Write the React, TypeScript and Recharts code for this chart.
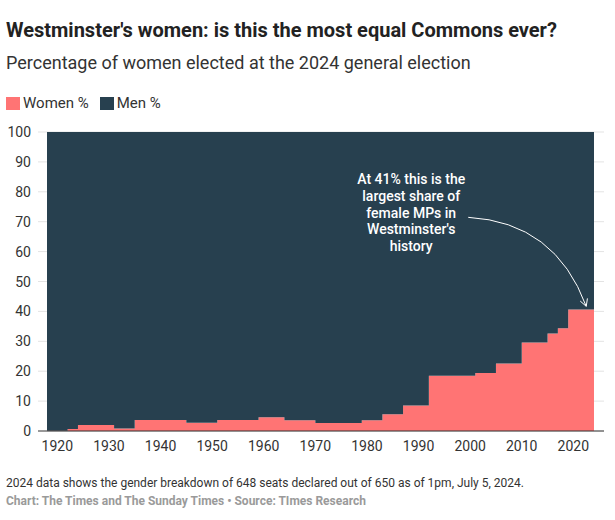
import React from 'react';
import {
  Area,
  AreaChart,
  CartesianGrid,
  ReferenceDot,
  XAxis,
  YAxis,
} from 'recharts';

// election years (each value covers the span ending at that year)
const years = [
  1918, 1922, 1924, 1931, 1935, 1945, 1951, 1959, 1964, 1970, 1979, 1983,
  1987, 1992, 2001, 2005, 2010, 2015, 2017, 2019, 2024,
];
const womenPct = [
  0.1, 0.1, 0.7, 2.0, 0.8, 3.7, 2.8, 3.7, 4.6, 3.6, 2.7, 3.6, 5.6, 8.5,
  18.5, 19.4, 22.6, 29.6, 32.6, 34.4, 40.6,
];
const menPct = [
  99.9, 99.9, 99.3, 98.0, 99.2, 96.3, 97.2, 96.3, 95.4, 96.4, 97.3, 96.4,
  94.4, 91.5, 81.5, 80.6, 77.4, 70.4, 67.4, 65.6, 59.4,
];
const xTicks = [1920, 1930, 1940, 1950, 1960, 1970, 1980, 1990, 2000, 2010, 2020];
const yTicks = [0, 10, 20, 30, 40, 50, 60, 70, 80, 90, 100];
const noteLines = [
  'At 41% this is the',
  'largest share of',
  'female MPs in',
  "Westminster's",
  'history',
];

const data = years.map((year, i) => ({
  year,
  women: womenPct[i],
  men: menPct[i],
}));

const PINK = '#ff7474';
const NAVY = '#27404f';
const FONT = 'Roboto, "Noto Sans", sans-serif';

const YTick = (props: any) => {
  const { x, y, payload } = props;
  const isZero = payload.value === 0;
  return (
    <g>
      <line
        x1={x + 7}
        x2={x + 16}
        y1={y}
        y2={y}
        stroke={isZero ? '#333' : '#e3e3e3'}
        strokeWidth={1}
      />
      <text
        x={x}
        y={y}
        dy={5}
        textAnchor='end'
        fontSize={14}
        fontFamily={FONT}
        fill='#333'
      >
        {payload.value}
      </text>
    </g>
  );
};

const Annotation = (props: any) => {
  const { cx, cy } = props;
  const sx = cx - 118;
  const sy = cy - 89;
  const qx = cx - 31;
  const qy = cy - 84;
  // arrowhead along end tangent
  const ang = Math.atan2(cy - qy, cx - qx);
  const len = 8;
  const a1 = ang + Math.PI - 0.5;
  const a2 = ang + Math.PI + 0.5;
  return (
    <g>
      <path
        d={`M${sx},${sy} Q${qx},${qy} ${cx},${cy}`}
        fill='none'
        stroke='#fff'
        strokeWidth={1}
      />
      <path
        d={`M${cx + len * Math.cos(a1)},${cy + len * Math.sin(a1)} L${cx},${cy} L${cx + len * Math.cos(a2)},${cy + len * Math.sin(a2)}`}
        fill='none'
        stroke='#fff'
        strokeWidth={1}
      />
      <text
        x={cx - 175}
        y={cy - 122}
        textAnchor='middle'
        fontSize={14}
        fontWeight={500}
        fontFamily={FONT}
        fill='#fff'
      >
        {noteLines.map((line, i) => (
          <tspan key={line} x={cx - 175} dy={i === 0 ? 0 : 16.7}>
            {line}
          </tspan>
        ))}
      </text>
    </g>
  );
};

const App = () => {
  return (
    <div
      style={{
        position: 'absolute',
        left: 0,
        top: 0,
        width: 615,
        height: 520,
        background: '#fff',
        fontFamily: FONT,
        color: '#333',
      }}
    >
      <div
        style={{
          position: 'absolute',
          left: 6,
          top: 20,
          fontSize: 20,
          lineHeight: '20px',
          fontWeight: 700,
          color: '#222',
          whiteSpace: 'nowrap',
        }}
      >
        Westminster's women: is this the most equal Commons ever?
      </div>
      <div
        style={{
          position: 'absolute',
          left: 6,
          top: 54,
          fontSize: 18,
          lineHeight: '18px',
          color: '#333',
          whiteSpace: 'nowrap',
        }}
      >
        Percentage of women elected at the 2024 general election
      </div>
      <div
        style={{
          position: 'absolute',
          left: 6,
          top: 96,
          display: 'flex',
          alignItems: 'center',
          fontSize: 15,
          lineHeight: '15px',
          color: '#333',
        }}
      >
        <span style={{ width: 14, height: 13, background: PINK, marginRight: 3 }} />
        <span style={{ marginRight: 11 }}>Women %</span>
        <span style={{ width: 14, height: 13, background: NAVY, marginRight: 3 }} />
        <span>Men %</span>
      </div>

      <div style={{ position: 'absolute', left: 0, top: 120 }}>
        <AreaChart
          width={615}
          height={350}
          data={data}
          margin={{ top: 12, right: 11, bottom: 0, left: 0 }}
        >
          <CartesianGrid vertical={false} stroke='#e3e3e3' />
          <XAxis
            dataKey='year'
            type='number'
            domain={[1918, 2025.94]}
            ticks={xTicks}
            tickLine={false}
            tickSize={0}
            tickMargin={10}
            height={39}
            axisLine={{ stroke: '#333' }}
            tick={{ fontSize: 14, fill: '#333', fontFamily: FONT }}
            allowDataOverflow
          />
          <YAxis
            domain={[0, 100]}
            ticks={yTicks}
            width={47}
            tickLine={false}
            tickSize={9}
            tickMargin={7}
            axisLine={false}
            tick={<YTick />}
          />
          <Area
            dataKey='women'
            name='Women %'
            stackId='a'
            type='stepBefore'
            fill={PINK}
            fillOpacity={1}
            stroke='none'
            isAnimationActive={false}
          />
          <Area
            dataKey='men'
            name='Men %'
            stackId='a'
            type='stepBefore'
            fill={NAVY}
            fillOpacity={1}
            stroke='none'
            isAnimationActive={false}
          />
          <ReferenceDot
            x={2022.5}
            y={41.7}
            r={0}
            ifOverflow='visible'
            shape={<Annotation />}
          />
        </AreaChart>
      </div>

      <div
        style={{
          position: 'absolute',
          left: 6,
          top: 477,
          fontSize: 12,
          lineHeight: '12px',
          color: '#333',
          whiteSpace: 'nowrap',
        }}
      >
        2024 data shows the gender breakdown of 648 seats declared out of 650 as of 1pm, July 5, 2024.
      </div>
      <div
        style={{
          position: 'absolute',
          left: 6,
          top: 495,
          fontSize: 12,
          lineHeight: '12px',
          fontWeight: 700,
          color: '#9a9a9a',
          whiteSpace: 'nowrap',
        }}
      >
        Chart: The Times and The Sunday Times • Source: TImes Research
      </div>
    </div>
  );
};

export default App;
